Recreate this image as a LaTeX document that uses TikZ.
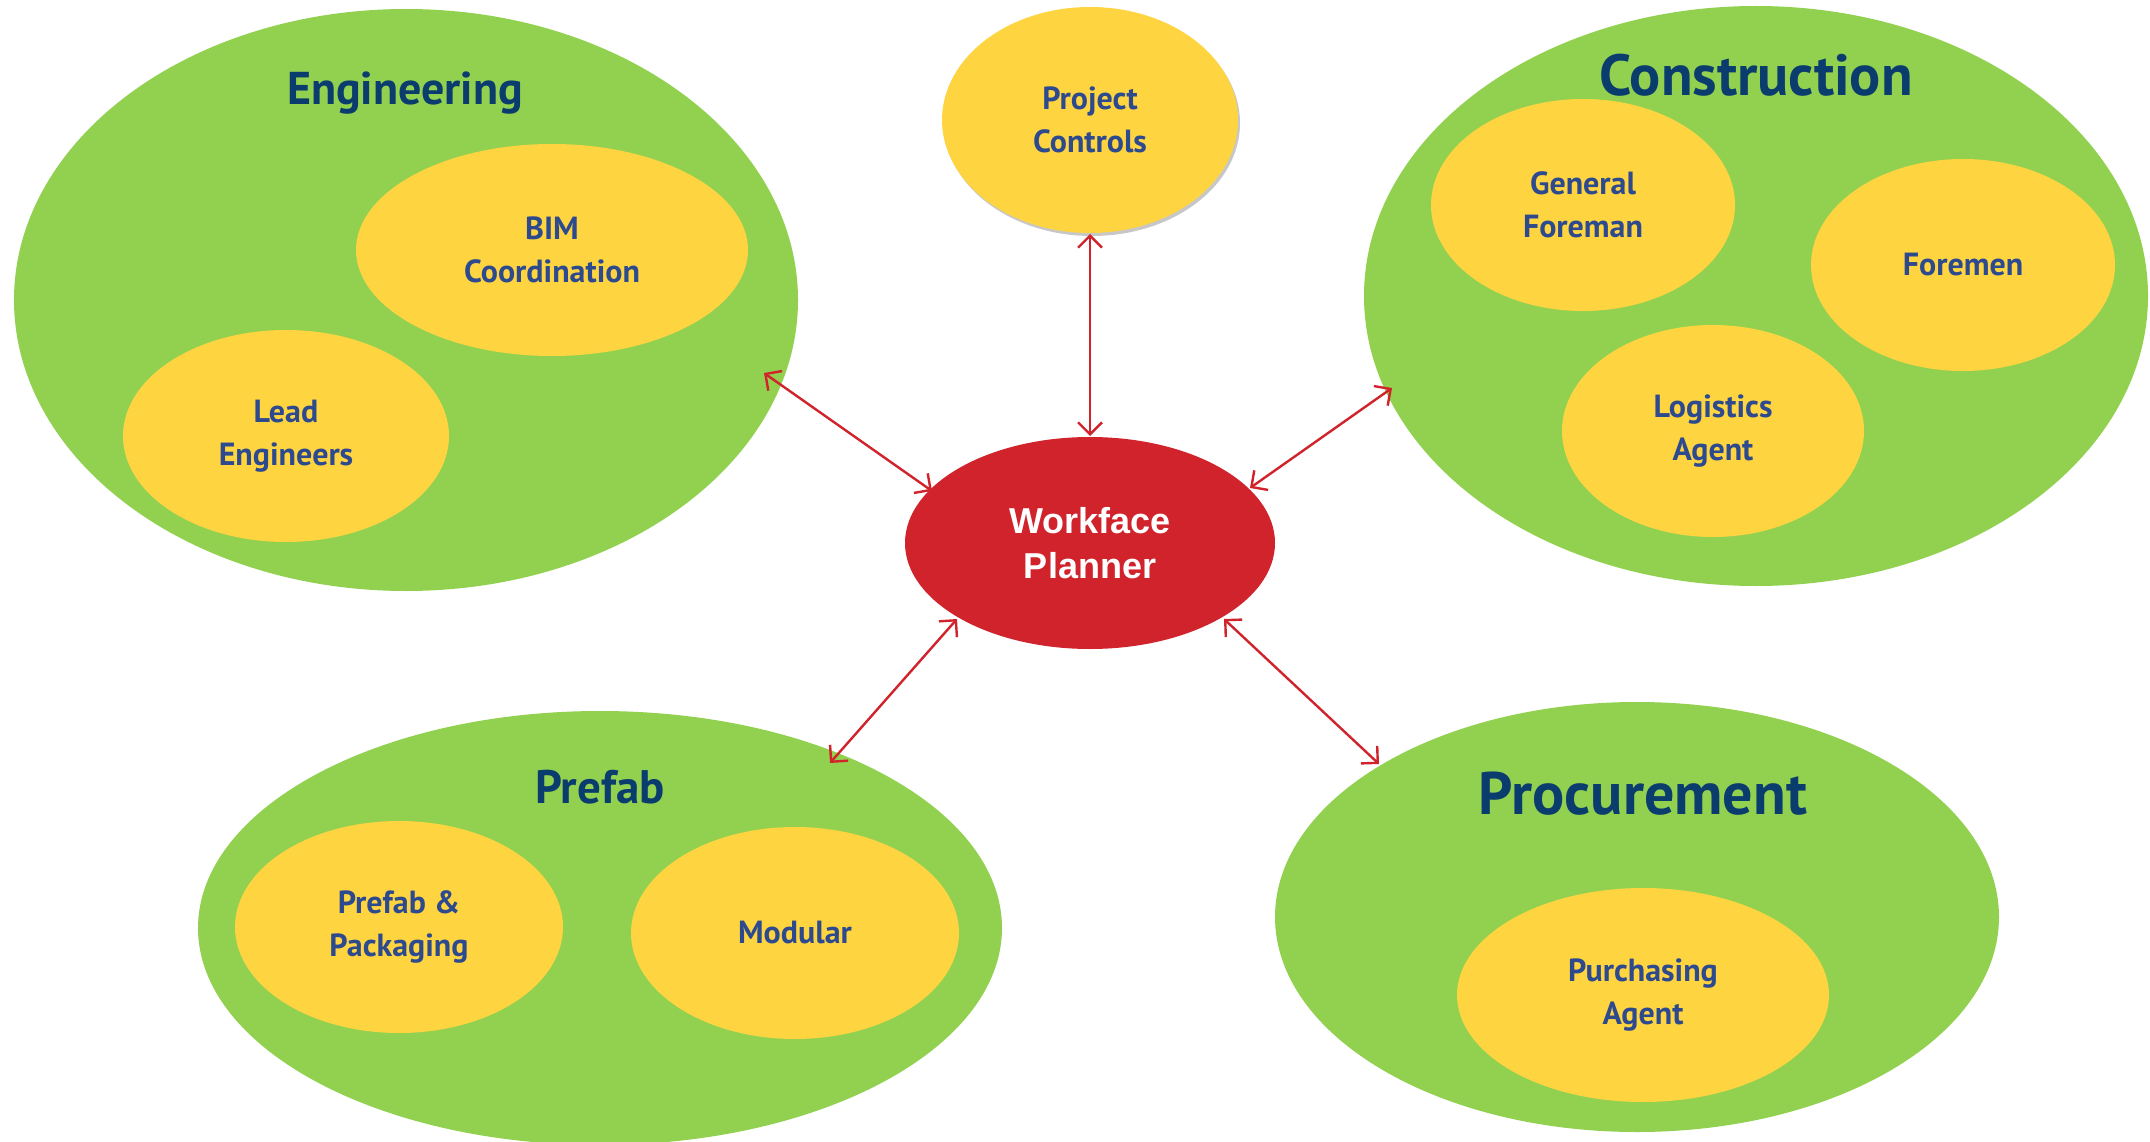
\documentclass[tikz,border=0pt]{standalone}
\usepackage{fontspec}
\setmainfont{PT Sans}
\newfontfamily\arialfont{Liberation Sans}
\usetikzlibrary{shapes.geometric,arrows.meta,shadows,calc}
\definecolor{grn}{HTML}{92D150}
\definecolor{yel}{HTML}{FED440}
\definecolor{redc}{HTML}{D0232B}
\definecolor{ttl}{HTML}{0A3C6E}
\definecolor{subtxt}{HTML}{2D4A8F}
\begin{document}
\begin{tikzpicture}[x=1pt,y=-1pt,
  big/.style={ellipse, fill=grn, inner sep=0pt, outer sep=0pt},
  sub/.style={ellipse, fill=yel, inner sep=0pt, outer sep=0pt, text=subtxt,
    font=\bfseries\fontsize{32}{43}\selectfont, align=center},
  grouptitle/.style={anchor=base, text=ttl, inner sep=0pt},
  link/.style={draw=redc, line width=2.4pt,
    {Straight Barb[length=12pt,width=24pt]}-{Straight Barb[length=12pt,width=24pt]}}
]
\useasboundingbox (0,0) rectangle (2150,1142);

% group ellipses
\node[big, minimum width=784pt, minimum height=582pt] (eng) at (406,300) {};
\node[big, minimum width=784pt, minimum height=580pt] (con) at (1756,296) {};
\node[big, minimum width=804pt, minimum height=434pt] (pre) at (600,928) {};
\node[big, minimum width=724pt, minimum height=430pt] (pro) at (1637,917) {};

% titles
\node[grouptitle, font=\bfseries\fontsize{46}{50}\selectfont] (engt) at (405,105) {Engineering};
\node[grouptitle, font=\bfseries\fontsize{58}{62}\selectfont] (cont) at (1756,96) {Construction};
\node[grouptitle, font=\bfseries\fontsize{47}{50}\selectfont] (pret) at (600,803) {Prefab};
\node[grouptitle, font=\bfseries\fontsize{60}{64}\selectfont] (prot) at (1643,814) {Procurement};

% sub ellipses
\node[sub, minimum width=392pt, minimum height=212pt] (bim) at (552,250) {BIM\\Coordination};
\node[sub, minimum width=326pt, minimum height=212pt] (lead) at (286,436) {Lead\\Engineers};
\node[sub, minimum width=304pt, minimum height=212pt] (gf) at (1583,205) {General\\Foreman};
\node[sub, minimum width=304pt, minimum height=212pt] (fm) at (1963,265) {Foremen};
\node[sub, minimum width=302pt, minimum height=212pt] (log) at (1713,431) {Logistics\\Agent};
\node[sub, minimum width=328pt, minimum height=212pt] (pp) at (399,927) {Prefab \&\\Packaging};
\node[sub, minimum width=328pt, minimum height=212pt] (mod) at (795,933) {Modular};
\node[sub, minimum width=372pt, minimum height=214pt] (pa) at (1643,995) {Purchasing\\Agent};

% project controls
\node[sub, minimum width=296pt, minimum height=226pt,
  drop shadow={shadow xshift=2pt, shadow yshift=-3pt, fill=black, opacity=0.22}] (pc) at (1090,120) {Project\\Controls};

% workface planner
\node[ellipse, fill=redc, inner sep=0pt, outer sep=0pt, minimum width=370pt, minimum height=212pt,
  text=white, align=center, font=\arialfont\bfseries\fontsize{36}{45}\selectfont] (wp) at (1090,543) {Workface\\Planner};

% connectors
\draw[link] ($(pc.center)+(0,114)$) -- ($(wp.center)+(0,-107)$);
\draw[link] ($(eng.center)+(358,73)$) -- ($(wp.center)+(-158,-52)$);
\draw[link] ($(con.center)+(-364,92)$) -- ($(wp.center)+(160,-55)$);
\draw[link] ($(pre.center)+(230,-165)$) -- ($(wp.center)+(-133,76)$);
\draw[link] ($(pro.center)+(-258,-153)$) -- ($(wp.center)+(134,76)$);
\end{tikzpicture}
\end{document}
